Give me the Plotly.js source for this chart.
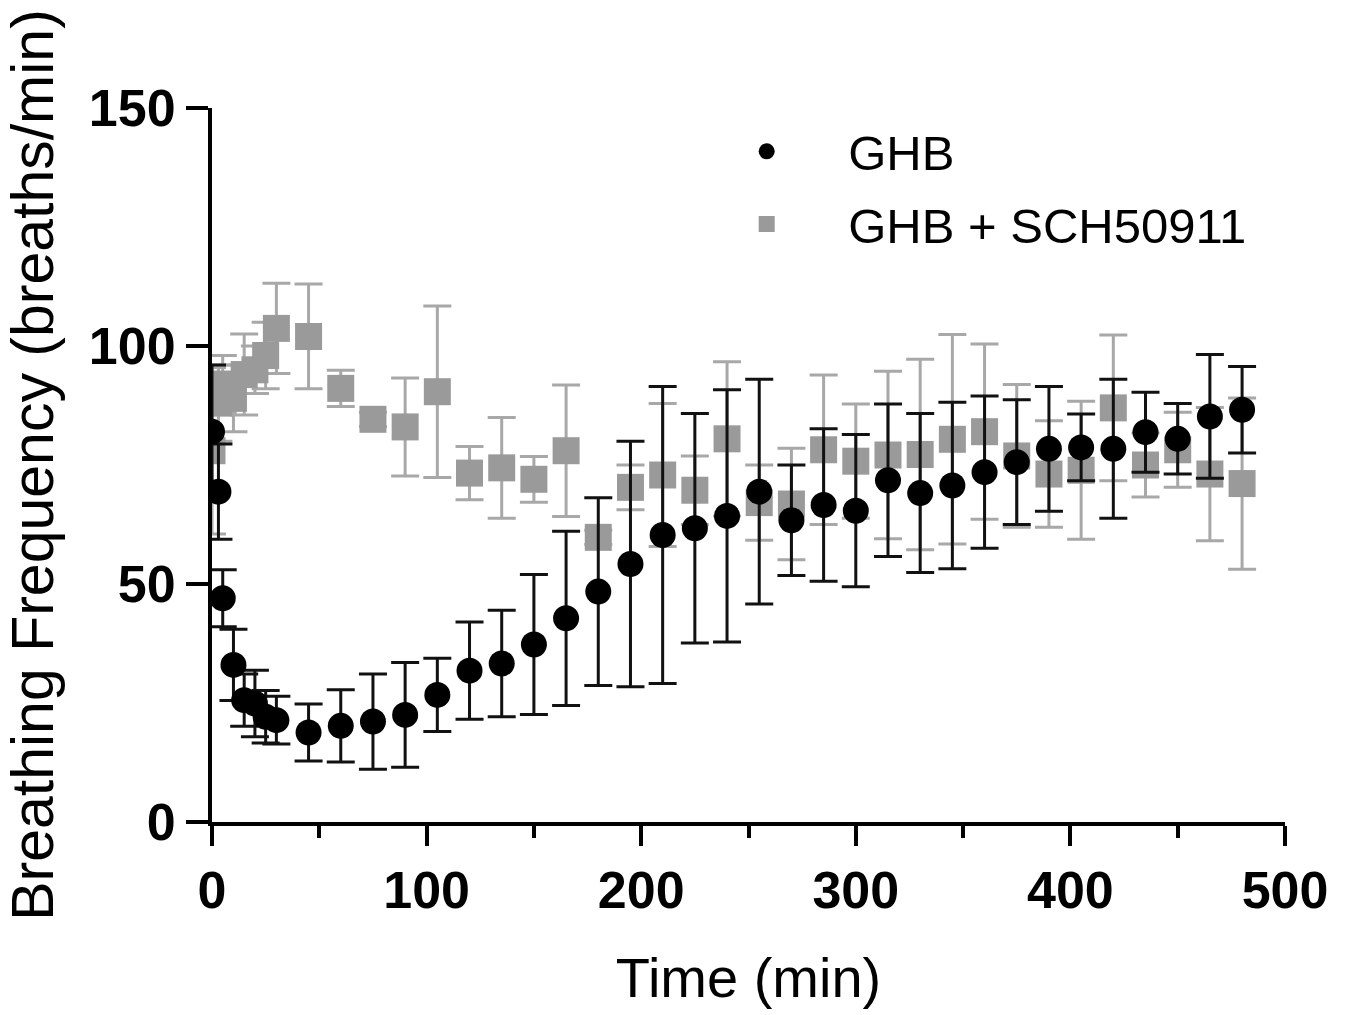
<!DOCTYPE html>
<html>
<head>
<meta charset="utf-8">
<script src="https://cdn.plot.ly/plotly-3.0.1.min.js"></script>
<style>html,body{margin:0;padding:0;background:#fff;}#chart{width:1348px;height:1015px;}</style>
</head>
<body>
<div id="chart"></div>
<script>
const times = [0,3,5,10,15,20,25,30,45,60,75,90,105,120,135,150,165,180,195,210,225,240,255,270,285,300,315,330,345,360,375,390,405,420,435,450,465,480];

const ghbMean = [82,69.4,47,33,25.6,24.9,22.1,21.4,18.8,20.2,21.1,22.5,26.7,31.8,33.3,37.3,42.8,48.4,54.2,60.3,61.7,64.3,69.4,63.4,66.6,65.4,71.8,69.1,70.7,73.5,75.6,78.4,78.7,78.4,81.9,80.5,85.2,86.6];
const ghbErr = [14,10,6,7.5,5.5,7,5.5,5,6,7.6,10,11,7.7,10.2,11.2,14.7,18.3,19.7,25.8,31.2,24.1,26.5,23.6,11.6,16,16,16,16.7,17.5,16,13.1,13.1,7,14.6,8.4,7.4,13,9.1];

const schMean = [78,88,92,89,94,95,98,103.7,102,91.1,84.6,83,90.4,73.3,74.4,72,78,59.8,70.3,72.9,69.7,80.5,67.1,66.8,78.2,75.8,77.1,77.2,80.4,82,76.9,73.1,73.9,87,75,78.2,73.1,71.1];
const schErr = [17.5,8,6,7,8.5,5,7,9.5,11,3.8,1.5,10.3,18,5.6,10.6,4.8,13.8,1.5,4.7,15,7.2,16.2,7.9,11.7,15.7,12,17.6,20,22,18.4,15,11.2,14.5,15.3,6.7,7.9,14,18];

const seriesNames = ['GHB', 'GHB + SCH50911'];
const xTitle = 'Time (min)';
const yTitle = 'Breathing Frequency (breaths/min)';

const FONT = '"Liberation Sans", Arial, sans-serif';

const traces = [
  {
    x: times, y: schMean, name: seriesNames[1], type: 'scatter', mode: 'markers',
    marker: {symbol: 'square', size: 27, color: '#9a9a9a'},
    error_y: {type: 'data', array: schErr, visible: true, color: '#a8a8a8', thickness: 3, width: 14},
    legendrank: 2, legendgroup: 'b'
  },
  {
    x: times, y: ghbMean, name: seriesNames[0], type: 'scatter', mode: 'markers',
    marker: {symbol: 'circle', size: 26, color: '#000000'},
    error_y: {type: 'data', array: ghbErr, visible: true, color: '#111111', thickness: 3, width: 14},
    legendrank: 1, legendgroup: 'a'
  }
];

const layout = {
  width: 1348, height: 1015,
  margin: {l: 212, r: 63, t: 108, b: 193},
  paper_bgcolor: '#ffffff', plot_bgcolor: '#ffffff',
  font: {family: FONT, color: '#000000'},
  showlegend: true,
  legend: {
    x: 0.441, y: 0.993, xanchor: 'left', yanchor: 'top',
    font: {size: 49, family: FONT, color: '#000'},
    bgcolor: 'rgba(0,0,0,0)', traceorder: 'grouped', tracegroupgap: 6,
    itemwidth: 153
  },
  xaxis: {
    range: [0, 500], showgrid: false, zeroline: false,
    showline: true, linewidth: 4, linecolor: '#000',
    ticks: 'outside', ticklen: 20, tickwidth: 4, tickcolor: '#000',
    tickmode: 'linear', tick0: 0, dtick: 100,
    minor: {ticks: 'outside', dtick: 50, ticklen: 12, tickwidth: 4, tickcolor: '#000', showgrid: false},
    tickfont: {size: 52, family: FONT, weight: 'bold', color: '#000'},
    title: {text: xTitle, font: {size: 56, family: FONT, color: '#000'}, standoff: 40}
  },
  yaxis: {
    range: [0, 150], showgrid: false, zeroline: false,
    showline: true, linewidth: 4, linecolor: '#000',
    ticks: 'outside', ticklen: 22, tickwidth: 4, tickcolor: '#000',
    tickmode: 'linear', tick0: 0, dtick: 50,
    tickfont: {size: 52, family: FONT, weight: 'bold', color: '#000'},
    title: {text: yTitle, font: {size: 59, family: FONT, color: '#000'}, standoff: 20}
  }
};

Plotly.newPlot('chart', traces, layout, {displayModeBar: false, staticPlot: true});
</script>
</body>
</html>
